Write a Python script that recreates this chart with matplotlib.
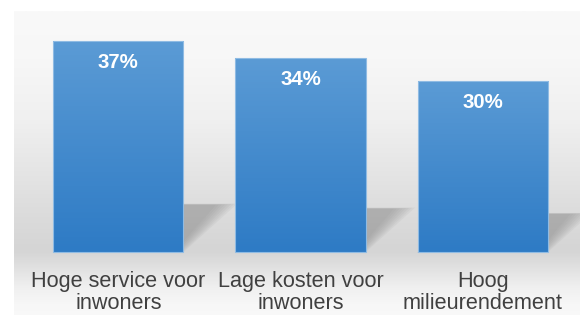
import numpy as np
import matplotlib
matplotlib.use("Agg")
import matplotlib.pyplot as plt
from matplotlib.patches import Polygon
from matplotlib.colors import LinearSegmentedColormap

# Data
categories = ["Hoge service voor\ninwoners", "Lage kosten voor\ninwoners", "Hoog\nmilieurendement"]
values = [37, 34, 30]
labels = ["37%", "34%", "30%"]

plt.rcParams['font.family'] = ['Liberation Sans', 'DejaVu Sans']

fig = plt.figure(figsize=(5.8, 3.15), dpi=100)
fig.patch.set_facecolor('white')
ax = fig.add_axes([14 / 580, 0, 566 / 580, 304 / 315])

ymin, ymax = -10.98, 42.26
xmin, xmax = -0.5724, 2.534
ax.set_xlim(xmin, xmax)
ax.set_ylim(ymin, ymax)
ax.axis('off')

# achtergrond met verloop (boven licht, rond de basislijn donkerder, onder weer licht)
bg = LinearSegmentedColormap.from_list("bg", [
    (0.0, "#f9f9f9"), (0.2, "#f7f7f7"), (0.45, "#f0f0f0"), (0.65, "#e6e6e6"),
    (0.82, "#dddddd"), (0.95, "#d7d7d7"), (1.0, "#d5d5d5")])
ypix = np.linspace(0, 1, 300)
g = np.where(ypix < 0.79, ypix / 0.79, 1 - (ypix - 0.79) / 0.21 * 0.95)
ax.imshow(g.reshape(-1, 1), cmap=bg, aspect='auto', extent=[xmin, xmax, ymin, ymax],
          origin='upper', zorder=0, vmin=0, vmax=1)

width = 0.714
x = np.arange(len(values))

# schaduwen (perspectief, zachte rand)
for xi, v in zip(x, values):
    hs = 0.23 * v
    dx = 0.008 * v
    x0, x1 = xi - width / 2, xi + width / 2
    n = 8
    for k in range(n):
        s = 0.012 * (n - 1 - k)
        poly = Polygon([(x0, 0), (x1 - s * 0.6, 0), (x1 + dx - s * 1.4, hs - s * 2.5),
                        (x0 + dx, hs - s * 2.5)],
                       closed=True, facecolor="#8a8a8a", edgecolor='none', alpha=0.09, zorder=1)
        ax.add_patch(poly)

# balken met verloop
barcmap = LinearSegmentedColormap.from_list("bar", ["#2e7bc5", "#5b9bd5"])
bars = ax.bar(x, values, width=width, color='none', edgecolor="#8fbbe3", linewidth=0.8, zorder=3)
for b, v in zip(bars, values):
    im = ax.imshow(np.linspace(0, 1, 100).reshape(-1, 1), cmap=barcmap, aspect='auto',
                   origin='lower', extent=[b.get_x(), b.get_x() + width, 0, v], zorder=2)
    im.set_clip_path(b)

for xi, v, lab in zip(x, values, labels):
    ax.text(xi, v - 4.73, lab, ha='center', va='baseline', color='white',
            fontsize=14.7, fontweight='bold', zorder=4)

for xi, cat in zip(x, categories):
    for j, line in enumerate(cat.split("\n")):
        ax.text(xi, -6.13 - 3.8 * j, line, ha='center', va='baseline', color='#404040',
                fontsize=15.6, zorder=4)

fig.savefig("out.png", dpi=100)
